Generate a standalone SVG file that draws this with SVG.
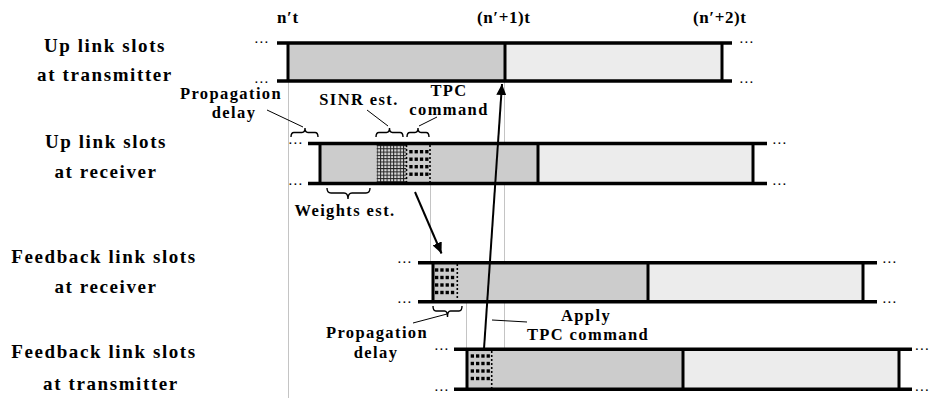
<svg xmlns="http://www.w3.org/2000/svg" width="931" height="398" viewBox="0 0 931 398">
<style>
.lbl{font-family:"Liberation Serif","Times New Roman",serif;font-weight:bold;font-size:19px;letter-spacing:1.6px;text-anchor:middle;fill:#000}
.sm{font-family:"Liberation Serif","Times New Roman",serif;font-weight:bold;font-size:16.5px;letter-spacing:1.4px;text-anchor:middle;fill:#000}
.tm{font-family:"Liberation Serif","Times New Roman",serif;font-weight:bold;font-size:17px;letter-spacing:0.6px;fill:#000}
.dots{font-family:"Liberation Serif","Times New Roman",serif;font-weight:bold;font-size:11px;letter-spacing:2.2px;fill:#000}
.dk{fill:#cccccc}
.lt{fill:#ececec}
.hl{stroke:#000;stroke-width:3.5}
.vl{stroke:#000;stroke-width:3}
.gl{stroke:#c4c4c4;stroke-width:1}
.dl{stroke:#000;stroke-width:1.6;stroke-dasharray:2 2}
.br{fill:none;stroke:#000;stroke-width:1.4}
.ld{stroke:#000;stroke-width:1}
.ar{stroke:#000;stroke-width:2;fill:none}
</style>
<defs>
<pattern id="grid" patternUnits="userSpaceOnUse" width="3.3" height="3.3" x="376.7" y="145">
<rect width="3.3" height="3.3" fill="#d8d8d8"/>
<rect width="1" height="3.3" fill="#222"/>
<rect width="3.3" height="1" fill="#222"/>
</pattern>
<g id="dotgrid" fill="#000">
<rect x="0" y="0" width="3.3" height="3.4"/><rect x="5.3" y="0" width="3.3" height="3.4"/><rect x="10.6" y="0" width="3.3" height="3.4"/><rect x="15.9" y="0" width="3.3" height="3.4"/>
<rect x="0" y="7.5" width="3.3" height="3.4"/><rect x="5.3" y="7.5" width="3.3" height="3.4"/><rect x="10.6" y="7.5" width="3.3" height="3.4"/><rect x="15.9" y="7.5" width="3.3" height="3.4"/>
<rect x="0" y="15" width="3.3" height="3.4"/><rect x="5.3" y="15" width="3.3" height="3.4"/><rect x="10.6" y="15" width="3.3" height="3.4"/><rect x="15.9" y="15" width="3.3" height="3.4"/>
<rect x="0" y="22.5" width="3.3" height="3.4"/><rect x="5.3" y="22.5" width="3.3" height="3.4"/><rect x="10.6" y="22.5" width="3.3" height="3.4"/><rect x="15.9" y="22.5" width="3.3" height="3.4"/>
</g>
<marker id="ah" markerUnits="userSpaceOnUse" markerWidth="12" markerHeight="10" refX="11" refY="5" orient="auto">
<path d="M0,0 L11,5 L0,10 Z" fill="#000"/>
</marker>
</defs>

<rect width="931" height="398" fill="#fff"/>

<g id="guides">
<line class="gl" x1="288.5" y1="81" x2="288.5" y2="398"/>
<line class="gl" x1="504.5" y1="81" x2="504.5" y2="349"/>
<line class="gl" x1="430.5" y1="183" x2="430.5" y2="263"/>
<line class="gl" x1="466.5" y1="302" x2="466.5" y2="349"/>
</g>

<g id="time-labels">
<text class="tm" x="277" y="23">n′t</text>
<text class="tm" x="477" y="23">(n′+1)t</text>
<text class="tm" x="693" y="23">(n′+2)t</text>
</g>

<g id="row-labels">
<text class="lbl" x="105" y="52">Up link slots</text>
<text class="lbl" x="105" y="81">at transmitter</text>
<text class="lbl" x="106" y="148">Up link slots</text>
<text class="lbl" x="106" y="178">at receiver</text>
<text class="lbl" x="104" y="263">Feedback link slots</text>
<text class="lbl" x="106" y="293">at receiver</text>
<text class="lbl" x="104" y="358">Feedback link slots</text>
<text class="lbl" x="111" y="390">at transmitter</text>
</g>

<g id="uplink-tx">
<rect class="dk" x="288" y="43" width="217" height="38"/>
<rect class="lt" x="505" y="43" width="217" height="38"/>
<line class="hl" x1="277" y1="43" x2="732" y2="43"/>
<line class="hl" x1="277" y1="81" x2="732" y2="81"/>
<line class="vl" x1="288" y1="43" x2="288" y2="81"/>
<line class="vl" x1="505" y1="43" x2="505" y2="81"/>
<line class="vl" x1="722" y1="43" x2="722" y2="81"/>
<text class="dots" x="255" y="43">...</text>
<text class="dots" x="255" y="82.5">...</text>
<text class="dots" x="740" y="43">...</text>
<text class="dots" x="740" y="82.5">...</text>
</g>

<g id="uplink-rx">
<rect class="dk" x="320" y="143.5" width="218" height="40"/>
<rect class="lt" x="538" y="143.5" width="215" height="40"/>
<rect fill="url(#grid)" x="376.7" y="145" width="29.5" height="37"/>
<use href="#dotgrid" x="409.3" y="150"/>
<line class="dl" x1="406.5" y1="145" x2="406.5" y2="182"/>
<line class="dl" x1="430" y1="145" x2="430" y2="182"/>
<line class="hl" x1="308" y1="143.5" x2="767" y2="143.5"/>
<line class="hl" x1="308" y1="183.5" x2="767" y2="183.5"/>
<line class="vl" x1="320" y1="143.5" x2="320" y2="183.5"/>
<line class="vl" x1="538" y1="143.5" x2="538" y2="183.5"/>
<line class="vl" x1="753" y1="143.5" x2="753" y2="183.5"/>
<text class="dots" x="289" y="144">...</text>
<text class="dots" x="289" y="185">...</text>
<text class="dots" x="773" y="144">...</text>
<text class="dots" x="773" y="185">...</text>
</g>

<g id="feedback-rx">
<rect class="dk" x="433" y="262.7" width="215" height="39"/>
<rect class="lt" x="648" y="262.7" width="215" height="39"/>
<use href="#dotgrid" x="435" y="268.3"/>
<line class="dl" x1="457.3" y1="264" x2="457.3" y2="300"/>
<line class="hl" x1="418" y1="262.7" x2="877" y2="262.7"/>
<line class="hl" x1="418" y1="301.7" x2="877" y2="301.7"/>
<line class="vl" x1="433" y1="262.7" x2="433" y2="301.7"/>
<line class="vl" x1="648" y1="262.7" x2="648" y2="301.7"/>
<line class="vl" x1="863" y1="262.7" x2="863" y2="301.7"/>
<text class="dots" x="398" y="263">...</text>
<text class="dots" x="398" y="303">...</text>
<text class="dots" x="883" y="263">...</text>
<text class="dots" x="883" y="303">...</text>
</g>

<g id="feedback-tx">
<rect class="dk" x="467" y="349.3" width="216" height="40"/>
<rect class="lt" x="683" y="349.3" width="216" height="40"/>
<use href="#dotgrid" x="470.7" y="354.3"/>
<line class="dl" x1="491.7" y1="351" x2="491.7" y2="388"/>
<line class="hl" x1="454" y1="349.3" x2="912" y2="349.3"/>
<line class="hl" x1="454" y1="389.3" x2="912" y2="389.3"/>
<line class="vl" x1="467" y1="349.3" x2="467" y2="389.3"/>
<line class="vl" x1="683" y1="349.3" x2="683" y2="389.3"/>
<line class="vl" x1="899" y1="349.3" x2="899" y2="389.3"/>
<text class="dots" x="435" y="350">...</text>
<text class="dots" x="435" y="391">...</text>
<text class="dots" x="915.5" y="350">...</text>
<text class="dots" x="915.5" y="391">...</text>
</g>

<g id="annotations">
<text class="sm" x="231" y="99">Propagation</text>
<text class="sm" x="234" y="118">delay</text>
<text class="sm" x="359" y="105">SINR est.</text>
<text class="sm" x="449" y="96">TPC</text>
<text class="sm" x="449" y="115">command</text>
<text class="sm" x="345" y="216">Weights est.</text>
<text class="sm" x="377" y="338">Propagation</text>
<text class="sm" x="376" y="358">delay</text>
<text class="sm" x="586" y="321">Apply</text>
<text class="sm" x="588" y="340">TPC command</text>
</g>

<g id="braces">
<path class="br" d="M291,137 Q291,132.5 294,132.5 L302,132.5 Q305,132.5 305,128 Q305,132.5 308,132.5 L315,132.5 Q318,132.5 318,137"/>
<path class="br" d="M376,137 Q376,132.5 379,132.5 L386.5,132.5 Q389.5,132.5 389.5,128 Q389.5,132.5 392.5,132.5 L400,132.5 Q403,132.5 403,137"/>
<path class="br" d="M407,137 Q407,132.5 410,132.5 L415,132.5 Q418,132.5 418,128 Q418,132.5 421,132.5 L426,132.5 Q429,132.5 429,137"/>
<path class="br" d="M327,188 Q327,193 331,193 L344,193 Q348,193 348,199 Q348,193 352,193 L366,193 Q370,193 370,188"/>
<path class="br" d="M433,306 Q433,311 436,311 L444.5,311 Q447.5,311 447.5,317 Q447.5,311 450.5,311 L459,311 Q462,311 462,306"/>
<line class="ld" x1="267" y1="110" x2="303" y2="127"/>
<line class="ld" x1="367" y1="110" x2="388" y2="126"/>
<line class="ld" x1="419" y1="126" x2="437" y2="117"/>
<line class="ld" x1="413" y1="323" x2="447" y2="314"/>
<line class="ld" x1="492" y1="320" x2="527" y2="322"/>
</g>

<g id="connectors">
<line class="ar" x1="415" y1="192" x2="441.5" y2="253.5" marker-end="url(#ah)"/>
<line class="ar" x1="484" y1="349" x2="502" y2="84" marker-end="url(#ah)"/>
</g>
</svg>
